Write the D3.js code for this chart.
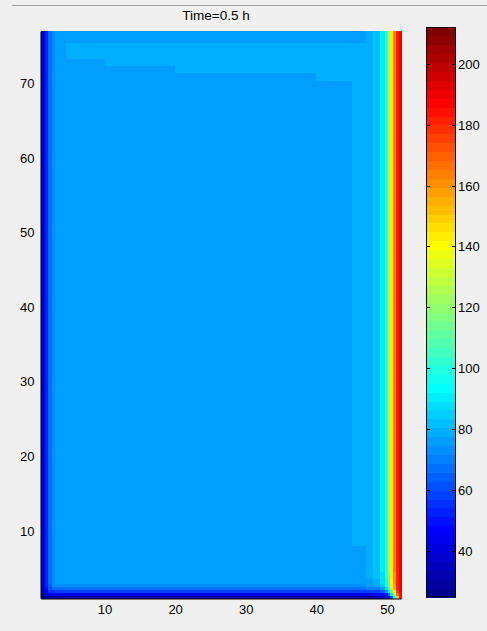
<!DOCTYPE html>
<html>
<head>
<meta charset="utf-8">
<script src="https://cdn.jsdelivr.net/npm/d3@7"></script>
<style>
  body { margin: 0; background: #f0f0f0; }
  svg text { font-family: "Liberation Sans", Arial, sans-serif; fill: #000; }
</style>
</head>
<body>
<div id="chart"></div>
<script>
// cell boundaries of the temperature field (grid units)
var xEdges = [1, 1.5, 2, 2.5, 3, 3.5, 4.5, 10, 20, 30, 40, 45, 47, 48, 49, 49.7, 50.1, 50.5, 50.9, 51.3, 51.65, 52];
var yEdges = [1, 1.4, 1.8, 2.2, 2.6, 3, 3.6, 4.5, 8, 40, 70.4, 71.4, 72.4, 73.3, 75.5, 77];

// temperature rows, bottom to top
var row00 = [24, 26, 28, 29, 30, 30, 30, 30, 30, 30, 30, 30, 30, 31, 33, 36, 44, 62, 100, 150, 185];
var row01 = [30, 38, 42, 44, 45, 45, 45, 45, 45, 45, 45, 45, 45, 46, 48, 54, 66, 92, 126, 168, 188];
var row02 = [34, 48, 55, 57, 58, 58, 58, 58, 58, 58, 58, 58, 58, 60, 64, 74, 90, 114, 142, 176, 190];
var row03 = [36, 51, 62, 66, 67, 68, 68, 68, 68, 68, 68, 68, 69, 71, 77, 88, 106, 130, 154, 180, 190];
var row04 = [37, 53, 65, 72, 73, 73, 73, 73, 73, 73, 73, 74, 75, 78, 85, 96, 116, 138, 159, 181, 190];
var row05 = [38, 54, 67, 73, 75, 75, 75, 75, 75, 75, 75, 76, 77, 80, 88, 100, 120, 141, 161, 182, 190];
var row06 = [38, 54, 67, 73, 75, 76, 76, 76, 76, 76, 76, 77, 78, 82, 89, 101, 121, 142, 162, 182, 190];
var row07 = [38, 54, 67, 73, 75, 76, 76, 76, 76, 76, 76, 77, 78, 83, 90, 102, 122, 143, 163, 182, 190];
var midRow = [38, 54, 67, 73, 75, 76, 76, 76, 76, 76, 76, 79, 79, 83, 90, 102, 122, 143, 163, 182, 190];
var row10 = [38, 54, 67, 73, 75, 76, 76, 76, 76, 76, 79, 79, 79, 83, 90, 102, 122, 143, 163, 182, 190];
var row11 = [38, 54, 67, 73, 75, 76, 76, 76, 79, 79, 79, 79, 79, 83, 90, 102, 122, 143, 163, 182, 190];
var row12 = [38, 54, 67, 73, 75, 76, 76, 79, 79, 79, 79, 79, 79, 83, 90, 102, 122, 143, 163, 182, 190];
var row13 = [38, 54, 67, 73, 75, 77, 79, 79, 79, 79, 79, 79, 79, 83, 90, 102, 122, 143, 163, 182, 190];
var topRow = [38, 54, 67, 73, 75, 76, 76, 76, 76, 76, 76, 77, 79, 83, 90, 102, 122, 143, 163, 182, 190];
var tempRows = [row00, row01, row02, row03, row04, row05, row06, row07, midRow, midRow, row10, row11, row12, row13, topRow];

var xTicks = [10, 20, 30, 40, 50];
var yTicks = [10, 20, 30, 40, 50, 60, 70];
var cbTicks = [40, 60, 80, 100, 120, 140, 160, 180, 200];
var cRange = [25, 212];
var title = "Time=0.5 h";

// MATLAB jet(64)
function jet(m) {
  var n = Math.ceil(m / 4), u = [], i;
  for (i = 1; i <= n; i++) u.push(i / n);
  for (i = 1; i < n; i++) u.push(1);
  for (i = n; i >= 1; i--) u.push(i / n);
  var off = Math.ceil(n / 2) - (m % 4 == 1 ? 1 : 0);
  var J = d3.range(m).map(function() { return [0, 0, 0]; });
  u.forEach(function(v, k) {
    var g = off + k + 1, r = g + n, b = g - n;
    if (r >= 1 && r <= m) J[r - 1][0] = v;
    if (g >= 1 && g <= m) J[g - 1][1] = v;
    if (b >= 1 && b <= m) J[b - 1][2] = v;
  });
  return J.map(function(c) { return d3.rgb(c[0] * 255, c[1] * 255, c[2] * 255).toString(); });
}
var jetColors = jet(64);

var W = 487, H = 631;
var svg = d3.select("#chart").append("svg").attr("width", W).attr("height", H);

// screenshot edge line at top
svg.append("line").attr("x1", 12).attr("x2", W).attr("y1", 5.5).attr("y2", 5.5)
  .attr("stroke", "#a0a0a0");

var x = d3.scaleLinear().domain([1, 52]).range([41, 401]);
var y = d3.scaleLinear().domain([1, 77]).range([598, 31]);
var color = d3.scaleQuantize().domain(cRange).range(jetColors);
function col(v) { return color(Math.max(cRange[0], Math.min(cRange[1] - 1e-6, v))); }

// field cells
var cells = [];
tempRows.forEach(function(row, j) {
  row.forEach(function(v, i) {
    cells.push({ x0: xEdges[i], x1: xEdges[i + 1], y0: yEdges[j], y1: yEdges[j + 1], v: v });
  });
});
svg.append("g").selectAll("rect").data(cells).enter().append("rect")
  .attr("x", function(d) { return x(d.x0); })
  .attr("y", function(d) { return y(d.y1); })
  .attr("width", function(d) { return x(d.x1) - x(d.x0) + 0.5; })
  .attr("height", function(d) { return y(d.y0) - y(d.y1) + 0.5; })
  .attr("fill", function(d) { return col(d.v); })
  .attr("shape-rendering", "crispEdges");

// axes
var xAxis = svg.append("g").attr("transform", "translate(0," + 598.5 + ")")
  .call(d3.axisBottom(x).tickValues(xTicks).tickSize(0).tickPadding(6));
var yAxis = svg.append("g").attr("transform", "translate(" + 40.5 + ",0)")
  .call(d3.axisLeft(y).tickValues(yTicks).tickSize(0).tickPadding(6));
[xAxis, yAxis].forEach(function(a) {
  a.select(".domain").attr("stroke", "#000");
  a.selectAll("text").style("font-size", "13px").style("font-family", "Liberation Sans, Arial, sans-serif");
});

// title
svg.append("text").attr("x", (x.range()[0] + x.range()[1]) / 2 - 5).attr("y", 20)
  .attr("text-anchor", "middle").style("font-size", "13.5px").text(title);

// colorbar
var cb = { x0: 426, x1: 456 };
var cy = d3.scaleLinear().domain(cRange).range([597, 27]);
var step = (cRange[1] - cRange[0]) / jetColors.length;
svg.append("g").selectAll("rect").data(jetColors).enter().append("rect")
  .attr("x", cb.x0)
  .attr("y", function(d, i) { return cy(cRange[0] + (i + 1) * step); })
  .attr("width", cb.x1 - cb.x0)
  .attr("height", function(d, i) { return cy(cRange[0] + i * step) - cy(cRange[0] + (i + 1) * step) + 0.5; })
  .attr("fill", function(d) { return d; })
  .attr("shape-rendering", "crispEdges");
svg.append("rect").attr("x", cb.x0 + 0.5).attr("y", 27.5)
  .attr("width", cb.x1 - cb.x0 - 1).attr("height", 569)
  .attr("fill", "none").attr("stroke", "#000");

var cbT = svg.append("g").selectAll("g").data(cbTicks).enter().append("g")
  .attr("transform", function(d) { return "translate(0," + (Math.round(cy(d)) + 0.5) + ")"; });
cbT.append("line").attr("x1", cb.x0).attr("x2", cb.x0 + 4).attr("stroke", "#000");
cbT.append("line").attr("x1", cb.x1 - 4).attr("x2", cb.x1).attr("stroke", "#000");
cbT.append("text").attr("x", cb.x1 + 2).attr("dy", "0.35em")
  .style("font-size", "13px").text(function(d) { return d; });
</script>
</body>
</html>
